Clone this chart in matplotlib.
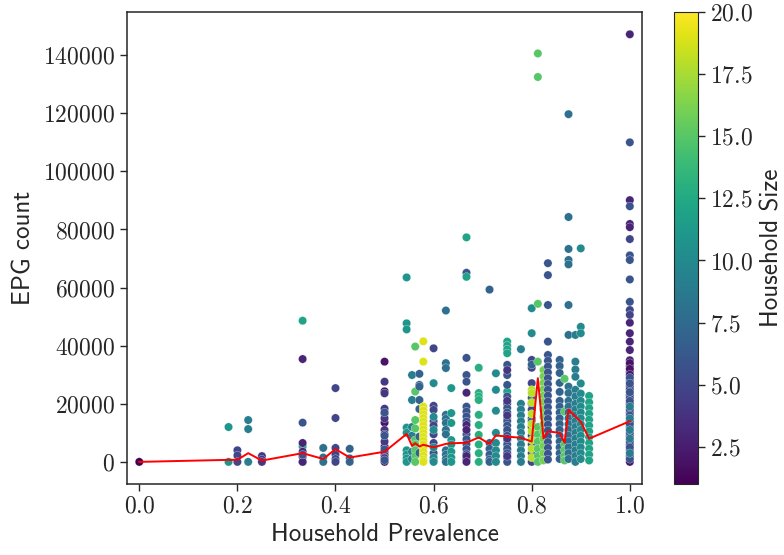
import numpy as np
import matplotlib
matplotlib.use('Agg')
import matplotlib.pyplot as plt

# each group: prevalence, household size, EPG counts
grp_prev = [0.0, 0.182, 0.2, 0.222, 0.25,
            0.333, 0.333, 0.333, 0.375, 0.4, 0.429,
            0.5, 0.5, 0.5,
            0.545, 0.556, 0.5625, 0.571, 0.579,
            0.6, 0.6, 0.625, 0.636,
            0.667, 0.667, 0.667,
            0.692, 0.714, 0.727,
            0.75, 0.75, 0.75, 0.778,
            0.8, 0.8, 0.8, 0.8, 0.8125, 0.824, 0.833,
            0.857, 0.867, 0.875, 0.889, 0.9, 0.917,
            1.0, 1.0, 1.0, 1.0, 1.0]
grp_size = [1, 11, 5, 9, 4,
            12, 3, 6, 8, 5, 7,
            2, 4, 6,
            11, 9, 15, 7, 19,
            5, 10, 8, 11,
            6, 12, 3,
            13, 7, 10,
            12, 6, 4, 9,
            5, 10, 7, 18, 15, 16, 6,
            7, 15, 8, 9, 10, 12,
            3, 2, 5, 6, 9]
grp_epg = [
    [0],
    [12000, 0],
    [4000, 2200, 0],
    [14400, 11300, 0],
    [2000, 800, 0],
    [48600, 5300, 0],
    [35400, 6500, 3500, 1800, 0],
    [13500, 2500],
    [4800, 1500, 0],
    [25400, 15100, 4800, 2500, 1000, 0],
    [4500, 1200, 0],
    [34500, 24300, 13500, 5300, 2400, 0],
    [27600, 23600, 18300, 16600, 15000, 11000, 9500, 7000, 3500, 1300],
    [17000, 9000, 4300, 600],
    [63500, 47700, 45600, 11800, 10000, 4000, 2500, 1200, 0],
    [29900, 21300, 12000, 9000, 3500, 1000],
    [39700, 24200, 14400, 11500, 7500, 6000, 4000, 2000, 0],
    [30300, 26500, 25900, 21300, 18200, 8700, 3100],
    [41500, 34500, 19000, 17700, 16400, 15100, 13800, 12500, 11200, 9900, 8600,
     7300, 6000, 4700, 3400, 2100, 800, 0],
    [39100, 19300, 17900, 14000, 12500, 9500, 6500, 3000, 500],
    [27100, 15500, 11000, 5000, 1500, 0],
    [52100, 34000, 32300, 16200, 14800, 13400, 11000, 9500, 4000, 2500, 1000, 0],
    [25400, 16800, 13400, 7500, 6000, 3500, 1500, 0],
    [65100, 35800, 29900, 27600, 19000, 17300, 15600, 13900, 9500, 7800, 6100,
     4400, 2700, 1000],
    [77300, 63700],
    [23800, 12700, 11000, 2000, 0],
    [32400, 23700, 22500, 21300, 16200, 12700, 9300, 6000, 3000, 0],
    [59300, 6500, 4500, 2500, 800, 0],
    [30500, 24800, 17600, 10000, 6500, 4000, 2000, 0],
    [41400, 40000, 38700, 37400, 24200, 15000, 10000, 4000],
    [33400, 29900, 26500, 22500, 20000, 18500, 17000, 14000, 12500, 11000, 9000,
     7500, 6000, 4500, 3000, 1500, 0],
    [31600, 21000, 16000, 8000, 2000],
    [38800, 20000, 18000, 16000, 14000, 12000, 10000, 8000, 6000, 4000, 2000, 0],
    [35100, 32400, 27100, 20000, 18000, 15000, 12000, 9000, 6000, 3000, 0],
    [52900, 44300],
    [33500, 22000, 14000],
    [24800, 23700, 20400, 16500, 13000, 10500, 7500, 4500, 1500],
    [140600, 132500, 54400, 34500, 12000, 9500, 7000, 4500, 2000, 0],
    [31600, 29400, 27200, 25000, 22800, 20600, 17900, 15500, 13000, 10500,
     8000, 5500, 3000, 500],
    [68400, 64300, 54000, 41400, 36800, 34800, 32800, 30800, 28800, 26800, 24800,
     22800, 20800, 18800, 16800, 14800, 12800, 10800, 8800, 6800, 4800, 2800, 800],
    [35100, 33000, 30600, 27200, 24100, 21000, 19000, 17000, 15000, 13000, 11000,
     9000, 7000, 5000, 3000, 1000],
    [28600, 17300, 6000, 4000, 2000, 500],
    [119700, 84300, 73300, 69500, 68000, 54000, 43700, 25900, 23700, 21000, 19000,
     17000, 15000, 13000, 11000, 9000, 7000, 5000, 3000, 1000],
    [43700, 34500, 31800, 29300, 24800, 22500, 20000, 18000, 16000, 14000, 12000,
     10000, 8000, 6000, 4000, 2000, 0],
    [73500, 46500, 44300, 27000, 23500, 21000, 19000, 17000, 15000, 13000, 11000,
     9000, 7000, 5000, 3000, 1000],
    [22700, 20500, 18500, 16500, 14500, 12500, 10500, 8500, 6500, 4500, 2500, 500],
    [147200, 90100, 81900, 80800, 47900, 44300, 41400, 38500, 35000, 33000, 31000,
     23000, 17000, 9000, 2000],
    [34000, 32000, 30000, 26000, 20000, 14000, 6000, 0],
    [76700, 52300, 50600, 28000, 25000, 22000, 18000, 12000, 7000, 4000],
    [110000, 88000, 71100, 69500, 62800, 55100, 29000, 27000, 24000, 21000, 16000,
     13000, 10000, 5000, 1000],
    [19000, 15000, 11000, 8000, 3000],
]

# group means (red line)
line_prev = [0.0, 0.182, 0.2, 0.222, 0.25, 0.333, 0.375, 0.4, 0.429, 0.5,
             0.545, 0.556, 0.5625, 0.571, 0.579, 0.6, 0.625, 0.636, 0.667,
             0.692, 0.714, 0.727, 0.75, 0.778, 0.8, 0.8125, 0.824, 0.833,
             0.857, 0.867, 0.875, 0.889, 0.9, 0.917, 1.0]
line_epg = [0, 700, 700, 3000, 450, 3000, 1000, 4400, 1500, 3500,
            9600, 5500, 6400, 5300, 5900, 5000, 6200, 6400, 6600,
            8400, 6200, 9100, 8700, 8300, 7000, 28800, 8100, 10500,
            10000, 6600, 18000, 15600, 13800, 8000, 14000]

plt.rcParams['font.family'] = 'cmr10'
plt.rcParams['mathtext.fontset'] = 'cm'
plt.rcParams['axes.formatter.use_mathtext'] = True

x, y, c = [], [], []
for p, s, vals in zip(grp_prev, grp_size, grp_epg):
    x += [p] * len(vals)
    y += vals
    c += [s] * len(vals)

fig = plt.figure(figsize=(7.84, 5.55), dpi=100)
ax = fig.add_axes([0.162, 0.128, 0.657, 0.85])
cax = fig.add_axes([0.860, 0.128, 0.030, 0.85])

sc = ax.scatter(x, y, c=c, cmap='viridis', vmin=1, vmax=20, s=36,
                edgecolors='white', linewidths=0.2, zorder=2)
ax.plot(line_prev, line_epg, color='red', lw=1.4, zorder=3)

ax.set_xlim(-0.025, 1.025)
ax.set_ylim(-7600, 154800)
ax.set_xticks(np.arange(0, 1.01, 0.2))
ax.set_yticks(np.arange(0, 140001, 20000))
ax.tick_params(labelsize=17, length=5, width=1, color='.15', labelcolor='.15',
               direction='out')
for sp in ax.spines.values():
    sp.set_color('.15')
    sp.set_linewidth(1.1)
ax.set_xlabel('Household Prevalence', fontfamily='cmss10', fontsize=18, color='.15')
ax.set_ylabel('EPG count', fontfamily='cmss10', fontsize=18, color='.15', labelpad=6)

cb = fig.colorbar(sc, cax=cax)
cb.set_ticks([2.5, 5, 7.5, 10, 12.5, 15, 17.5, 20])
cb.ax.tick_params(labelsize=17, length=5, width=1, color='.15', labelcolor='.15')
cb.outline.set_edgecolor('.15')
cb.set_label('Household Size', fontfamily='cmss10', fontsize=18, color='.15', labelpad=6)

fig.savefig('out.png', dpi=100)
